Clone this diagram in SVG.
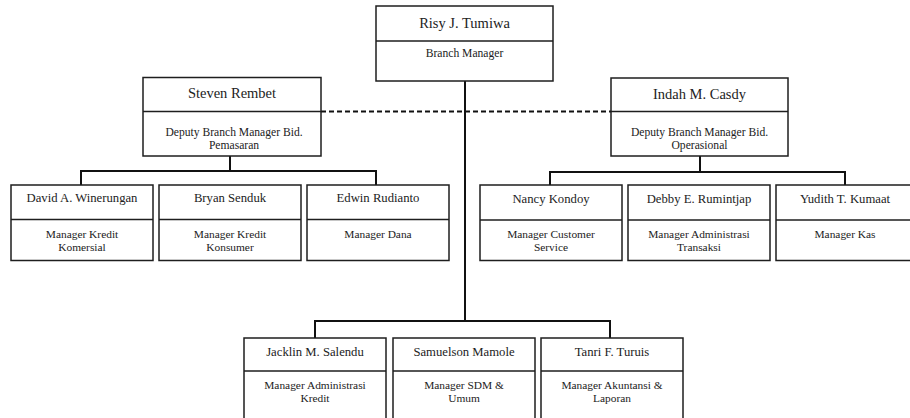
<svg xmlns="http://www.w3.org/2000/svg" width="910" height="418" viewBox="0 0 910 418">
<style>
.box{fill:#fff;stroke:#1e1e1e;stroke-width:1.5}
.div{stroke:#1e1e1e;stroke-width:1.5}
.con{fill:none;stroke:#111;stroke-width:2}
.dash{fill:none;stroke:#111;stroke-width:2;stroke-dasharray:5 3}
text{font-family:"Liberation Serif","Times New Roman",serif;fill:#222;text-anchor:middle}
.n1{font-size:14.5px}
.n2{font-size:12.7px}
.r1{font-size:11.6px}
.r2{font-size:11.4px}
</style>
<rect width="910" height="418" fill="#fff"/>
<g id="connectors">
<path class="dash" d="M321 111.5H611"/>
<path class="con" d="M465 81V321M315 338V321H610V338"/>
<path class="con" d="M230 156V171M81 185V171H376V185"/>
<path class="con" d="M700 156V172M550 185V172H845V185"/>
</g>
<g id="risy">
<rect class="box" x="376" y="6" width="177" height="75"/>
<line class="div" x1="376" y1="41" x2="553" y2="41"/>
<text class="n1" x="464.5" y="28">Risy J. Tumiwa</text>
<text class="r1" x="464.5" y="57">Branch Manager</text>
</g>
<g id="steven">
<rect class="box" x="143" y="77.5" width="178" height="78.5"/>
<line class="div" x1="143" y1="111.5" x2="321" y2="111.5"/>
<text class="n1" x="232" y="98">Steven Rembet</text>
<text class="r1" x="234" y="136">Deputy Branch Manager Bid.</text>
<text class="r1" x="234" y="148.5">Pemasaran</text>
</g>
<g id="indah">
<rect class="box" x="611" y="78" width="177" height="78"/>
<line class="div" x1="611" y1="111.5" x2="788" y2="111.5"/>
<text class="n1" x="699.5" y="98.5">Indah M. Casdy</text>
<text class="r1" x="699.5" y="136">Deputy Branch Manager Bid.</text>
<text class="r1" x="699.5" y="148.5">Operasional</text>
</g>
<g id="david">
<rect class="box" x="11" y="185" width="142" height="75.5"/>
<line class="div" x1="11" y1="219.5" x2="153" y2="219.5"/>
<text class="n2" x="82" y="202">David A. Winerungan</text>
<text class="r2" x="82" y="238">Manager Kredit</text>
<text class="r2" x="82" y="251">Komersial</text>
</g>
<g id="bryan">
<rect class="box" x="159" y="185" width="142" height="75.5"/>
<line class="div" x1="159" y1="219.5" x2="301" y2="219.5"/>
<text class="n2" x="230" y="202">Bryan Senduk</text>
<text class="r2" x="230" y="238">Manager Kredit</text>
<text class="r2" x="230" y="251">Konsumer</text>
</g>
<g id="edwin">
<rect class="box" x="307" y="185" width="142" height="75.5"/>
<line class="div" x1="307" y1="219.5" x2="449" y2="219.5"/>
<text class="n2" x="378" y="202">Edwin Rudianto</text>
<text class="r2" x="378" y="238">Manager Dana</text>
</g>
<g id="nancy">
<rect class="box" x="480" y="185" width="142" height="75.5"/>
<line class="div" x1="480" y1="220" x2="622" y2="220"/>
<text class="n2" x="551" y="203">Nancy Kondoy</text>
<text class="r2" x="551" y="238">Manager Customer</text>
<text class="r2" x="551" y="251">Service</text>
</g>
<g id="debby">
<rect class="box" x="628" y="185" width="142" height="75.5"/>
<line class="div" x1="628" y1="220" x2="770" y2="220"/>
<text class="n2" x="699" y="203">Debby E. Rumintjap</text>
<text class="r2" x="699" y="238">Manager Administrasi</text>
<text class="r2" x="699" y="251">Transaksi</text>
</g>
<g id="yudith">
<rect class="box" x="776" y="185" width="142" height="75.5"/>
<line class="div" x1="776" y1="220" x2="918" y2="220"/>
<text class="n2" x="845" y="203">Yudith T. Kumaat</text>
<text class="r2" x="845" y="238">Manager Kas</text>
</g>
<g id="jacklin">
<rect class="box" x="244" y="338" width="142" height="90"/>
<line class="div" x1="244" y1="371" x2="386" y2="371"/>
<text class="n2" x="315" y="355.5">Jacklin M. Salendu</text>
<text class="r2" x="315" y="389">Manager Administrasi</text>
<text class="r2" x="315" y="402">Kredit</text>
</g>
<g id="samuelson">
<rect class="box" x="393" y="338" width="142" height="90"/>
<line class="div" x1="393" y1="371" x2="535" y2="371"/>
<text class="n2" x="464" y="355.5">Samuelson Mamole</text>
<text class="r2" x="464" y="389">Manager SDM &amp;</text>
<text class="r2" x="464" y="402">Umum</text>
</g>
<g id="tanri">
<rect class="box" x="541" y="338" width="142" height="90"/>
<line class="div" x1="541" y1="371" x2="683" y2="371"/>
<text class="n2" x="612" y="355.5">Tanri F. Turuis</text>
<text class="r2" x="612" y="389">Manager Akuntansi &amp;</text>
<text class="r2" x="612" y="402">Laporan</text>
</g>
</svg>
